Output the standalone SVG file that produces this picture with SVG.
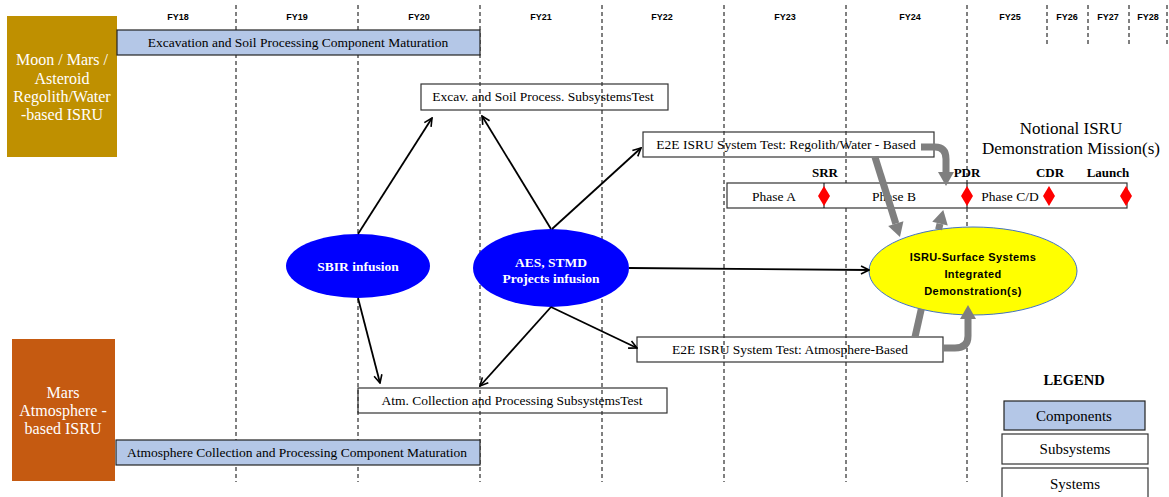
<svg xmlns="http://www.w3.org/2000/svg" width="1169" height="497" viewBox="0 0 1169 497">
<style>
.grid{stroke:#000;stroke-width:1;stroke-dasharray:4,3}
.fy{font-family:"Liberation Sans",Arial,sans-serif;font-weight:bold;font-size:9px;fill:#000;text-anchor:middle}
.serif{font-family:"Liberation Serif","Times New Roman",serif;font-size:13.5px;fill:#000;text-anchor:middle}
.comp{fill:#b4c7e7;stroke:#222;stroke-width:1.2}
.box{fill:none;stroke:#333;stroke-width:1.2}
.wbox{fill:#fff;stroke:#333;stroke-width:1.2}
.side{font-family:"Liberation Serif","Times New Roman",serif;font-size:16px;fill:#fff;text-anchor:middle}
.blu{fill:#0000ff}
.blut{font-family:"Liberation Serif","Times New Roman",serif;font-weight:bold;font-size:13.5px;fill:#fff;text-anchor:middle}
.ms{font-family:"Liberation Serif","Times New Roman",serif;font-weight:bold;font-size:13px;fill:#000;text-anchor:middle}
.big{font-size:17px}
.leg{font-size:15px}
.legh{font-size:14.5px}
.dia{fill:#ff0000}
.blk{fill:none;stroke:#000;stroke-width:1.8}
.gry{fill:none;stroke:#7f7f7f;stroke-width:7}
.yt{font-family:"Liberation Sans",Arial,sans-serif;font-weight:bold;font-size:11px;letter-spacing:0.4px;fill:#000;text-anchor:middle}
</style>
<defs>
<marker id="ah" viewBox="0 0 10 10" refX="9" refY="5" markerWidth="10" markerHeight="10" markerUnits="userSpaceOnUse" orient="auto">
<path d="M1,1 L9,5 L1,9" fill="none" stroke="#000" stroke-width="1.6"/>
</marker>
<marker id="gh" viewBox="0 0 14 16" refX="0" refY="8" markerWidth="14" markerHeight="16" markerUnits="userSpaceOnUse" orient="auto" overflow="visible">
<path d="M0,0 L14,8 L0,16 z" fill="#7f7f7f"/>
</marker>
</defs>
<rect width="1169" height="497" fill="#fff"/>
<g id="grid">
<line class="grid" x1="236" y1="5" x2="236" y2="482"/>
<line class="grid" x1="358" y1="5" x2="358" y2="482"/>
<line class="grid" x1="480" y1="5" x2="480" y2="482"/>
<line class="grid" x1="602" y1="5" x2="602" y2="482"/>
<line class="grid" x1="724" y1="5" x2="724" y2="482"/>
<line class="grid" x1="846" y1="5" x2="846" y2="482"/>
<line class="grid" x1="967" y1="5" x2="967" y2="482"/>
<line class="grid" x1="1047" y1="5" x2="1047" y2="46"/>
<line class="grid" x1="1088" y1="5" x2="1088" y2="46"/>
<line class="grid" x1="1129" y1="5" x2="1129" y2="46"/>
<line class="grid" x1="1167" y1="5" x2="1167" y2="46"/>
</g>
<g id="fy-labels">
<text class="fy" x="178" y="20">FY18</text>
<text class="fy" x="297" y="20">FY19</text>
<text class="fy" x="419" y="20">FY20</text>
<text class="fy" x="541" y="20">FY21</text>
<text class="fy" x="662" y="20">FY22</text>
<text class="fy" x="785" y="20">FY23</text>
<text class="fy" x="910" y="20">FY24</text>
<text class="fy" x="1010" y="20">FY25</text>
<text class="fy" x="1067" y="20">FY26</text>
<text class="fy" x="1108" y="20">FY27</text>
<text class="fy" x="1148" y="20">FY28</text>
</g>
<g id="moon-mars">
<rect x="7" y="16" width="110" height="141" fill="#bf9000"/>
<text class="side" x="62" y="65">Moon / Mars /</text>
<text class="side" x="62" y="84">Asteroid</text>
<text class="side" x="62" y="102">Regolith/Water</text>
<text class="side" x="62" y="120">-based ISRU</text>
</g>
<g id="mars-atm">
<rect x="12" y="339" width="103" height="142" fill="#c55a11"/>
<text class="side" x="63" y="398">Mars</text>
<text class="side" x="63" y="416">Atmosphere -</text>
<text class="side" x="63" y="434">based ISRU</text>
</g>
<g id="excav-comp">
<rect class="comp" x="117" y="30" width="363" height="25"/>
<text class="serif" x="298" y="47">Excavation and Soil Processing Component Maturation</text>
</g>
<g id="atm-comp">
<rect class="comp" x="116" y="440" width="364" height="25"/>
<text class="serif" x="297" y="457">Atmosphere Collection and Processing Component Maturation</text>
</g>
<g id="excav-sub">
<rect class="box" x="421" y="84" width="247" height="26"/>
<text class="serif" x="543" y="101">Excav. and Soil Process. SubsystemsTest</text>
</g>
<g id="atm-sub">
<rect class="box" x="358" y="388" width="309" height="25"/>
<text class="serif" x="512" y="405">Atm. Collection and Processing  SubsystemsTest</text>
</g>
<g id="e2e-regolith">
<rect class="box" x="643" y="132" width="291" height="25"/>
<text class="serif" x="786" y="149">E2E ISRU System Test: Regolith/Water - Based</text>
</g>
<g id="e2e-atm">
<rect class="box" x="637" y="337" width="306" height="25"/>
<text class="serif" x="790" y="354">E2E ISRU System Test: Atmosphere-Based</text>
</g>
<g id="sbir">
<ellipse class="blu" cx="358" cy="266" rx="72" ry="32"/>
<text class="blut" x="358" y="271">SBIR infusion</text>
</g>
<g id="aes">
<ellipse class="blu" cx="551" cy="268" rx="78" ry="39"/>
<text class="blut" x="551" y="267">AES, STMD</text>
<text class="blut" x="551" y="283">Projects infusion</text>
</g>
<g id="mission">
<text class="serif big" x="1071" y="134">Notional ISRU</text>
<text class="serif big" x="1071" y="154">Demonstration Mission(s)</text>
<rect fill="#fff" stroke="#333" stroke-width="1.2" x="727" y="183" width="400" height="25"/>
<line x1="824" y1="183" x2="824" y2="208" stroke="#000" stroke-width="1"/>
<line x1="967" y1="183" x2="967" y2="208" stroke="#000" stroke-width="1"/>
<text class="serif" x="774" y="201">Phase A</text>
<text class="serif" x="894" y="201">Phase B</text>
<text class="serif" x="1010" y="201">Phase C/D</text>
<text class="ms" x="825" y="177">SRR</text>
<text class="ms" x="967" y="177">PDR</text>
<text class="ms" x="1050" y="177">CDR</text>
<text class="ms" x="1108" y="177">Launch</text>
<path class="dia" d="M824,186 L830,196 L824,206 L818,196 z"/>
<path class="dia" d="M967,186 L973,196 L967,206 L961,196 z"/>
<path class="dia" d="M1049,186 L1055,196 L1049,206 L1043,196 z"/>
<path class="dia" d="M1126,186 L1132,196 L1126,206 L1120,196 z"/>
</g>
<g id="isru-demo">
<ellipse cx="973" cy="271" rx="104" ry="44" fill="#ffff00" stroke="#4472c4" stroke-width="1"/>
<text class="yt" x="973" y="261">ISRU-Surface Systems</text>
<text class="yt" x="973" y="278">Integrated</text>
<text class="yt" x="973" y="295">Demonstration(s)</text>
</g>
<g id="legend">
<text class="ms legh" x="1074" y="385">LEGEND</text>
<rect class="comp" x="1004" y="401" width="141" height="29"/>
<text class="serif leg" x="1074" y="421">Components</text>
<rect class="wbox" x="1002" y="434" width="146" height="30"/>
<text class="serif leg" x="1075" y="454">Subsystems</text>
<rect class="wbox" x="1002" y="468" width="146" height="32"/>
<text class="serif leg" x="1075" y="489">Systems</text>
</g>
<g id="connectors">
<line class="blk" x1="358" y1="234" x2="432" y2="118" marker-end="url(#ah)"/>
<line class="blk" x1="551" y1="229" x2="482" y2="116" marker-end="url(#ah)"/>
<line class="blk" x1="552" y1="229" x2="641" y2="148" marker-end="url(#ah)"/>
<line class="blk" x1="629" y1="268" x2="869" y2="270" marker-end="url(#ah)"/>
<line class="blk" x1="358" y1="298" x2="380" y2="383" marker-end="url(#ah)"/>
<line class="blk" x1="551" y1="307" x2="480" y2="386" marker-end="url(#ah)"/>
<line class="blk" x1="551" y1="307" x2="637" y2="348" marker-end="url(#ah)"/>
<path class="gry" d="M921,147 L935,147 Q946,147 946,159 L946,172" marker-end="url(#gh)"/>
<path class="gry" d="M875,157 L895.8,223.6" marker-end="url(#gh)"/>
<path class="gry" d="M915,337 L921.3,309"/>
<path class="gry" d="M938.6,229.5 L940,223.7" marker-end="url(#gh)"/>
<path class="gry" d="M943,348 L955,348 Q968,348 968,336 L968,319" marker-end="url(#gh)"/>
</g>
</svg>
